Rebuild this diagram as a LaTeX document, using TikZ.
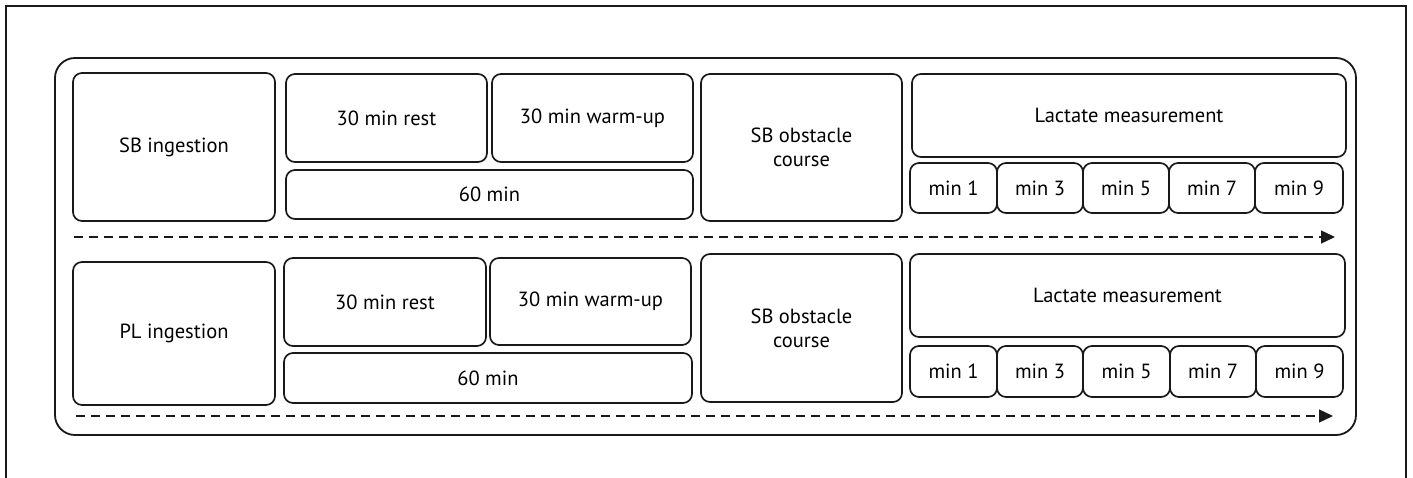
\documentclass[tikz,border=0pt]{standalone}
\usepackage{fontspec}
\setmainfont{PT Sans}
\usetikzlibrary{arrows.meta}
\tikzset{
  box/.style={draw=black!90, line width=1.7pt, rounded corners=9pt, inner sep=0pt,
    align=center, font=\fontsize{20.5}{24}\selectfont},
  container/.style={draw=black!90, line width=1.8pt, rounded corners=20pt, inner sep=0pt},
  flow/.style={draw=black!90, line width=1.4pt, dash pattern=on 9pt off 6pt,
    -{Triangle[length=14pt,width=13pt]}},
  frame/.style={draw=black!90, line width=2.2pt}
}
% \stagebox{name}{centre x}{centre y}{width}{height}{text}
\newcommand\stagebox[6]{\node[box, minimum width=#4pt, minimum height=#5pt] (#1) at (#2,#3) {#6};}
\begin{document}
\begin{tikzpicture}[x=1pt,y=-1pt]
\useasboundingbox (0,0) rectangle (1413,478);
% open frame round the whole figure
\coordinate (fa) at (6,480);
\coordinate (fb) at (6,6);
\coordinate (fc) at (1406,6);
\coordinate (fd) at (1406,480);
\draw[frame] (fa) -- (fb) -- (fc) -- (fd);
% container
\node[container, minimum width=1301pt, minimum height=377pt] (cont) at (705.5,246.5) {};

% ---- first protocol row ----
\stagebox{sbi}{174}{147}{202}{148}{SB ingestion}
\stagebox{restA}{386.5}{118}{201}{88}{30 min rest}
\stagebox{warmA}{592.5}{118}{201}{88}{30 min warm-up}
\stagebox{sixtyA}{489.5}{194.5}{407}{49}{60 min}
\stagebox{obsA}{801.5}{147.5}{201}{147}{SB obstacle\\course}
\stagebox{lacA}{1129}{115.5}{434}{83}{Lactate measurement}
\stagebox{mAa}{953.5}{188}{87}{50}{min 1}
\stagebox{mAb}{1040}{188}{86}{50}{min 3}
\stagebox{mAc}{1126}{188}{86}{50}{min 5}
\stagebox{mAd}{1212}{188}{86}{50}{min 7}
\stagebox{mAe}{1299}{188}{88}{50}{min 9}
\coordinate (tAs) at (74,237);
\coordinate (tAe) at (1335,237);
\draw[flow] (tAs) -- (tAe);

% ---- second protocol row ----
\stagebox{pli}{174}{333.5}{202}{143}{PL ingestion}
\stagebox{restB}{385}{302}{202}{88}{30 min rest}
\stagebox{warmB}{590.5}{301.5}{201}{87}{30 min warm-up}
\stagebox{sixtyB}{488}{378}{408}{50}{60 min}
\stagebox{obsB}{801.5}{328}{201}{148}{SB obstacle\\course}
\stagebox{lacB}{1127.5}{295.5}{435}{83}{Lactate measurement}
\stagebox{mBa}{953.5}{371.5}{87}{51}{min 1}
\stagebox{mBb}{1040}{371.5}{86}{51}{min 3}
\stagebox{mBc}{1126.5}{371.5}{87}{51}{min 5}
\stagebox{mBd}{1213}{371.5}{86}{51}{min 7}
\stagebox{mBe}{1299.5}{371.5}{87}{51}{min 9}
\coordinate (tBs) at (76,416);
\coordinate (tBe) at (1333,416);
\draw[flow] (tBs) -- (tBe);
\end{tikzpicture}
\end{document}
